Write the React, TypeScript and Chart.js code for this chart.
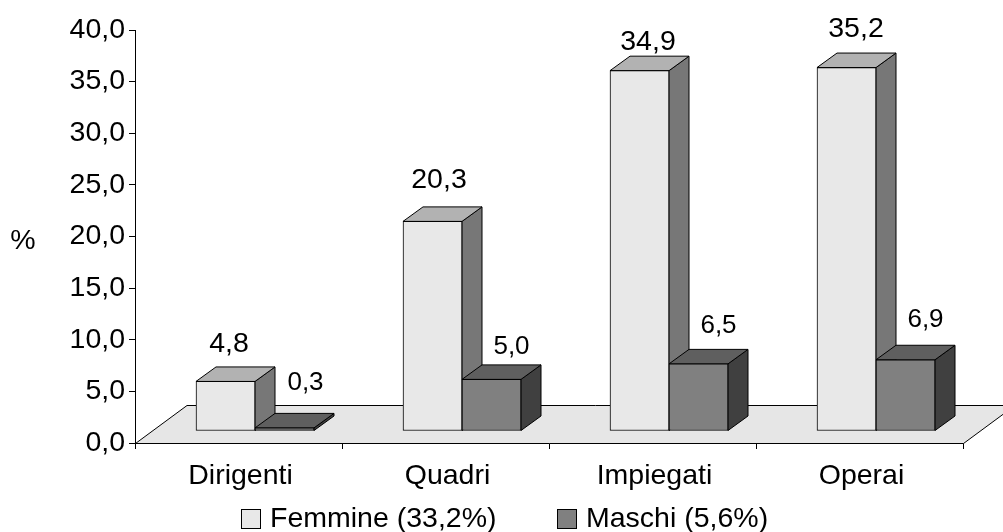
import React, { useEffect, useRef } from "react";
import { Chart, registerables } from "chart.js";

Chart.register(...registerables);

// Occupational groups and the share of each gender, in percent
const categories = ["Dirigenti", "Quadri", "Impiegati", "Operai"];
const femmine = [4.8, 20.3, 34.9, 35.2];
const maschi = [0.3, 5.0, 6.5, 6.9];
const serieNames = ["Femmine (33,2%)", "Maschi (5,6%)"];
const axisMax = 40;
const axisStep = 5;

const FONT = "'Liberation Sans', Arial, sans-serif";
const TEXT_SIZE = 28.5;

// Oblique projection used for the pseudo-3D look
const DEPTH_X = 20;
const DEPTH_Y = 14.5;
const SHIFT_X = 16.5;
const SHIFT_Y = 12;
const FLOOR_X = 52;
const FLOOR_Y = 38;

const shades = [
  { front: "#e8e8e8", top: "#b2b2b2", side: "#777777" },
  { front: "#808080", top: "#5f5f5f", side: "#404040" },
];

// Where each value label sits relative to its bar's top edge
const labelStyle = [
  { size: 28.5, dx: [3.5, 6.5, 8.5, 9.5], dy: [-37, -41, -29, -38] },
  { size: 26, dx: [21, 20, 20, 20], dy: [-45, -33, -38, -40] },
];

// Legend key positions along the bottom row
const legendBoxX = [241, 557];
const legendBoxTop = 509;
const legendBaseline = 527;
const legendBox = 19;

const comma = (v: number) => v.toFixed(1).replace(".", ",");

function polygon(ctx: CanvasRenderingContext2D, pts: number[][], fill: string) {
  ctx.beginPath();
  pts.forEach(([x, y], i) => (i ? ctx.lineTo(x, y) : ctx.moveTo(x, y)));
  ctx.closePath();
  ctx.fillStyle = fill;
  ctx.fill();
  ctx.lineWidth = 1;
  ctx.strokeStyle = "#000";
  ctx.stroke();
}

const pseudo3d = {
  id: "pseudo3d",
  // Bars are painted below, left series first, so the right-hand bar overlaps its neighbour
  beforeDatasetDraw() {
    return false;
  },
  afterDatasetsDraw(chart: any) {
    const { ctx, chartArea: a } = chart;
    const y0 = chart.scales.y.getPixelForValue(0) + 0.5;

    // Floor plane, running off to the back right
    polygon(
      ctx,
      [
        [a.left + 0.5, y0],
        [a.right + 0.5, y0],
        [a.right + FLOOR_X, y0 - FLOOR_Y],
        [a.left + FLOOR_X, y0 - FLOOR_Y],
      ],
      "#e6e6e6"
    );

    chart.data.datasets.forEach((ds: any, d: number) => {
      const meta = chart.getDatasetMeta(d);
      const tone = shades[d];
      ctx.save();
      ctx.translate(SHIFT_X, -SHIFT_Y);
      meta.data.forEach((bar: any) => {
        const { x, y, base, width } = bar.getProps(["x", "y", "base", "width"]);
        const l = x - width / 2;
        const r = x + width / 2;
        polygon(
          ctx,
          [
            [r, y],
            [r + DEPTH_X, y - DEPTH_Y],
            [r + DEPTH_X, base - DEPTH_Y],
            [r, base],
          ],
          tone.side
        );
        polygon(
          ctx,
          [
            [l, y],
            [l + DEPTH_X, y - DEPTH_Y],
            [r + DEPTH_X, y - DEPTH_Y],
            [r, y],
          ],
          tone.top
        );
      });
      meta.controller.draw();
      ctx.restore();
    });

    ctx.save();
    ctx.fillStyle = "#000";
    ctx.textBaseline = "middle";
    ctx.textAlign = "center";

    // Value labels above the bars
    chart.data.datasets.forEach((ds: any, d: number) => {
      const style = labelStyle[d];
      ctx.font = `${style.size}px ${FONT}`;
      chart.getDatasetMeta(d).data.forEach((bar: any, i: number) => {
        const { x, y } = bar.getProps(["x", "y"]);
        ctx.fillText(comma(ds.data[i]), x + SHIFT_X + style.dx[i], y - SHIFT_Y + style.dy[i]);
      });
    });

    // "%" axis caption
    ctx.font = `${TEXT_SIZE}px ${FONT}`;
    ctx.fillText("%", 23, 241);

    // Legend row
    ctx.textAlign = "left";
    ctx.textBaseline = "alphabetic";
    chart.data.datasets.forEach((ds: any, d: number) => {
      const bx = legendBoxX[d];
      ctx.fillStyle = shades[d].front;
      ctx.fillRect(bx + 0.5, legendBoxTop + 0.5, legendBox, legendBox);
      ctx.lineWidth = 1;
      ctx.strokeStyle = "#000";
      ctx.strokeRect(bx + 0.5, legendBoxTop + 0.5, legendBox, legendBox);
      ctx.fillStyle = "#000";
      ctx.fillText(ds.label, bx + 29, legendBaseline);
    });
    ctx.restore();
  },
};

export default function App() {
  const ref = useRef<HTMLCanvasElement>(null);

  useEffect(() => {
    const chart = new Chart(ref.current!, {
      type: "bar",
      data: {
        labels: categories,
        datasets: [
          {
            label: serieNames[0],
            data: femmine,
            backgroundColor: shades[0].front,
            borderColor: "#000",
            borderWidth: 1,
            borderSkipped: false,
            barThickness: 59,
            clip: false,
          },
          {
            label: serieNames[1],
            data: maschi,
            backgroundColor: shades[1].front,
            borderColor: "#000",
            borderWidth: 1,
            borderSkipped: false,
            barThickness: 59,
            clip: false,
          },
        ],
      } as any,
      options: {
        animation: false,
        responsive: false,
        layout: { padding: { left: 0, right: 40, top: 30, bottom: 0 } },
        plugins: {
          tooltip: { enabled: false },
          legend: { display: false },
        },
        scales: {
          x: {
            grid: { drawOnChartArea: false, drawTicks: true, tickLength: 6, color: "#000", offset: true },
            border: { color: "#000", width: 1 },
            ticks: {
              color: "#000",
              font: { family: FONT, size: TEXT_SIZE },
              padding: 10,
              labelOffset: 2,
              maxRotation: 0,
            },
            afterFit: (s: any) => {
              s.height = 89;
            },
          },
          y: {
            min: 0,
            max: axisMax,
            grid: { drawOnChartArea: false, drawTicks: true, tickLength: 6, color: "#000" },
            border: { color: "#000", width: 1 },
            ticks: {
              stepSize: axisStep,
              color: "#000",
              font: { family: FONT, size: TEXT_SIZE },
              padding: 4,
              callback: (v: any) => comma(Number(v)),
            },
            afterFit: (s: any) => {
              s.width = 135;
            },
          },
        },
      },
      plugins: [pseudo3d],
    } as any);
    return () => chart.destroy();
  }, []);

  return (
    <div style={{ position: "fixed", left: 0, top: 0, width: 1003, height: 532, overflow: "hidden", background: "#fff" }}>
      <canvas ref={ref} width={1003} height={532} style={{ display: "block" }} />
    </div>
  );
}
